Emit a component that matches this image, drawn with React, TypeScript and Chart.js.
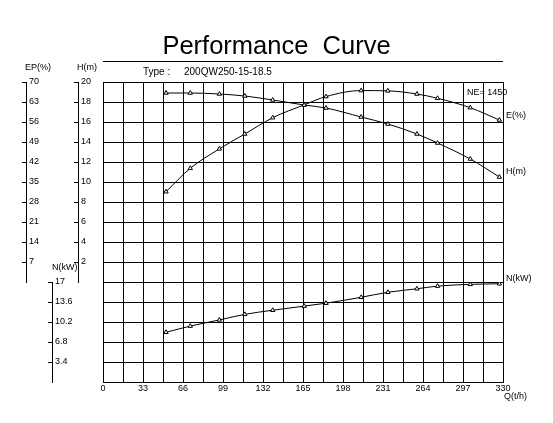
import React, { useEffect, useRef } from "react";
import { Chart, registerables } from "chart.js";

Chart.register(...registerables);

// ---- data ----
const Q_VALUES = [52, 72, 96, 117, 140, 166, 184, 213, 235, 259, 276, 303, 327];
const H_VALUES = [18.9, 18.9, 18.8, 18.6, 18.2, 17.7, 17.4, 16.5, 15.8, 14.8, 13.9, 12.3, 10.5];
const E_VALUES = [31.6, 39.8, 46.6, 51.8, 57.5, 62.0, 64.9, 67.0, 66.9, 65.8, 64.3, 61.0, 56.7];
const N_VALUES = [8.45, 9.5, 10.55, 11.5, 12.2, 12.9, 13.4, 14.4, 15.25, 15.85, 16.3, 16.6, 16.7];

const X_GRID = [0, 16.5, 33, 49.5, 66, 82.5, 99, 115.5, 132, 148.5, 165, 181.5, 198, 214.5, 231, 247.5, 264, 280.5, 297, 313.5, 330];
const X_LABELS = [0, 33, 66, 99, 132, 165, 198, 231, 264, 297, 330];
const EP_TICKS = [7, 14, 21, 28, 35, 42, 49, 56, 63, 70];
const H_TICKS = [2, 4, 6, 8, 10, 12, 14, 16, 18, 20];
const N_TICKS = [3.4, 6.8, 10.2, 13.6, 17];

const TITLE = "Performance  Curve";
const TYPE_LABEL = "Type :";
const TYPE_VALUE = "200QW250-15-18.5";
const SPEED_LABEL = "NE= 1450";

const FONT = 'Arial, "Liberation Sans", sans-serif';

const toPoints = (ys: number[]) => Q_VALUES.map((q, i) => ({ x: q, y: ys[i] }));

const blankAxis = (
  position: "left" | "right",
  stack: string | undefined,
  stackWeight: number,
  weight: number,
  width: number
) => ({
  type: "linear" as const,
  position,
  stack,
  stackWeight,
  weight,
  min: 0,
  max: 1,
  ticks: { display: false },
  grid: { display: false },
  border: { display: false },
  afterFit: (s: any) => {
    s.width = width;
  },
});

const valueAxis = (
  stack: string,
  stackWeight: number,
  weight: number,
  max: number,
  ticks: number[],
  onArea: boolean
) => ({
  type: "linear" as const,
  position: "left" as const,
  stack,
  stackWeight,
  weight,
  min: 0,
  max,
  afterBuildTicks: (s: any) => {
    s.ticks = ticks.map((v) => ({ value: v }));
  },
  ticks: {
    mirror: true,
    padding: 3,
    autoSkip: false,
    color: "#000",
    font: { family: FONT, size: 9 },
    callback: (v: any) => String(v),
  },
  grid: {
    color: "#000",
    lineWidth: 1,
    drawTicks: true,
    tickLength: 4,
    drawOnChartArea: onArea,
  },
  border: { display: true, color: "#000", width: 1 },
  afterFit: (s: any) => {
    s.width = 26;
  },
});

const textPlugin = {
  id: "pumpTexts",
  afterDraw(chart: any) {
    const { ctx, chartArea: a, scales } = chart;
    const yE = scales.yE;
    const yH = scales.yH;
    const yN = scales.yN;
    ctx.save();
    ctx.fillStyle = "#000";
    ctx.strokeStyle = "#000";
    ctx.lineWidth = 1;
    // rule under the title
    ctx.beginPath();
    ctx.moveTo(a.left, 61.5);
    ctx.lineTo(a.right, 61.5);
    ctx.stroke();

    ctx.textBaseline = "middle";
    ctx.textAlign = "left";
    ctx.font = `10px ${FONT}`;
    ctx.fillText(TYPE_LABEL, 143, 72);
    ctx.fillText(TYPE_VALUE, 184, 72);

    ctx.font = `9px ${FONT}`;
    ctx.fillText(SPEED_LABEL, a.right - 36, 93);

    // axis titles
    ctx.fillText("EP(%)", yE.right - 1, 68);
    ctx.fillText("H(m)", yH.right - 1, 68);
    ctx.fillText("N(kW)", yN.right, yN.top - 14);

    // curve names at line ends
    const last = Q_VALUES.length - 1;
    const xr = a.right + 3;
    ctx.fillText("E(%)", xr, yE.getPixelForValue(E_VALUES[last]) - 4);
    ctx.fillText("H(m)", xr, yH.getPixelForValue(H_VALUES[last]) - 5);
    ctx.fillText("N(kW)", xr, yN.getPixelForValue(N_VALUES[last]) - 5);

    // x axis name
    ctx.fillText("Q(t/h)", a.right + 1, a.bottom + 15);
    ctx.restore();
  },
};

export default function App() {
  const canvasRef = useRef<HTMLCanvasElement | null>(null);

  useEffect(() => {
    if (!canvasRef.current) return;
    const ds = (data: { x: number; y: number }[], axis: string, label: string) => ({
      label,
      data,
      yAxisID: axis,
      xAxisID: "x",
      borderColor: "#000",
      borderWidth: 1,
      backgroundColor: "#fff",
      pointStyle: "triangle" as const,
      pointRadius: 2.5,
      pointBorderWidth: 1,
      pointBorderColor: "#000",
      pointBackgroundColor: "#fff",
      cubicInterpolationMode: "monotone" as const,
      fill: false,
    });

    const chart = new Chart(canvasRef.current, {
      type: "line",
      data: {
        datasets: [
          ds(toPoints(H_VALUES), "yH", "H(m)"),
          ds(toPoints(E_VALUES), "yE", "E(%)"),
          ds(toPoints(N_VALUES), "yN", "N(kW)"),
        ],
      },
      options: {
        responsive: false,
        animation: false,
        devicePixelRatio: 1,
        layout: { padding: 0 },
        plugins: {
          legend: { display: false },
          tooltip: { enabled: false },
          title: {
            display: true,
            text: TITLE,
            color: "#000",
            font: { family: FONT, size: 25.5, weight: "normal" },
            padding: { top: 32, bottom: 19.4 },
          },
        },
        scales: {
          x: {
            type: "linear",
            position: "bottom",
            min: 0,
            max: 330,
            afterBuildTicks: (s: any) => {
              s.ticks = X_GRID.map((v) => ({ value: v }));
            },
            ticks: {
              autoSkip: false,
              maxRotation: 0,
              padding: 1,
              color: "#000",
              font: { family: FONT, size: 9 },
              callback: (v: any) => (X_LABELS.includes(Number(v)) ? String(v) : ""),
            },
            grid: { color: "#000", lineWidth: 1, drawTicks: false },
            border: { display: true, color: "#000", width: 1 },
            afterFit: (s: any) => {
              s.height = 41;
            },
          },
          yE: valueAxis("sE", 2, 31, 70, EP_TICKS, true),
          yEpad: blankAxis("left", "sE", 1, 30, 26),
          yNpad: blankAxis("left", "sN", 2, 21, 26),
          yN: valueAxis("sN", 1, 20, 17, N_TICKS, true),
          yH: valueAxis("sH", 2, 11, 20, H_TICKS, false),
          yHpad: blankAxis("left", "sH", 1, 10, 26),
          spacer: blankAxis("left", undefined, 1, 0, 25),
          rightSpace: blankAxis("right", undefined, 1, 0, 50),
        } as any,
      },
      plugins: [textPlugin],
    });
    return () => chart.destroy();
  }, []);

  return (
    <div
      style={{
        position: "fixed",
        left: 0,
        top: 0,
        width: 553,
        height: 423,
        background: "#fff",
      }}
    >
      <canvas ref={canvasRef} width={553} height={423} style={{ display: "block" }} />
    </div>
  );
}
